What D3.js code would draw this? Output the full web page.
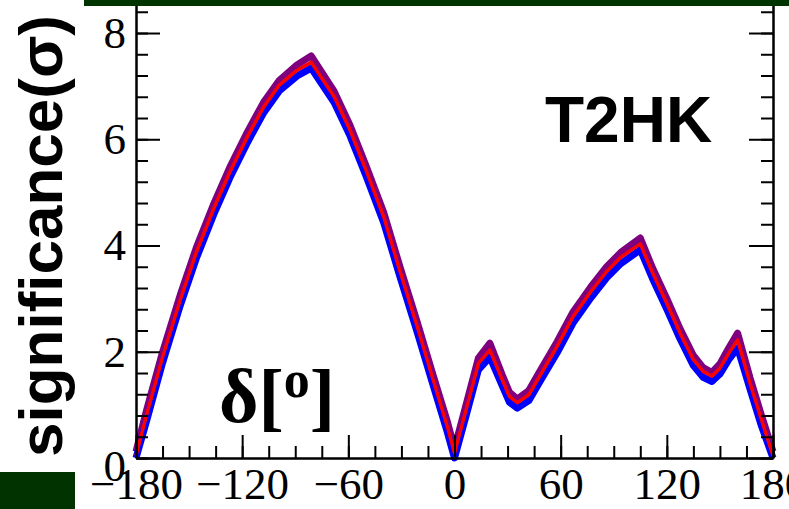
<!DOCTYPE html>
<html>
<head>
<meta charset="utf-8">
<script src="https://cdn.jsdelivr.net/npm/d3@7"></script>
<style>
  body { margin: 0; background: #fff; }
  svg { display: block; }
</style>
</head>
<body>
<svg></svg>
<script>
// delta CP values (degrees)
var delta = [-180, -174, -165, -155, -146, -136, -127, -117, -108, -99, -89, -81,
    -68, -59, -50, -40, -31, -21, -12, -4, 0, 7, 13.5, 20, 27, 31, 35.5, 42, 48,
    58, 67, 77, 86, 94, 105, 112, 120, 127.5, 135, 140.5, 145.5, 150, 155, 160,
    167, 173.5, 180]

var sigPurple = [0.12, 0.9, 1.99, 3.07, 3.95, 4.79, 5.47, 6.14, 6.69, 7.11, 7.4, 7.57,
    6.9, 6.26, 5.5, 4.62, 3.62, 2.55, 1.55, 0.68, 0.18, 1.06, 1.88, 2.16, 1.56, 1.24,
    1.11, 1.27, 1.62, 2.19, 2.75, 3.22, 3.6, 3.87, 4.14, 3.57, 3.0, 2.43, 1.93, 1.7,
    1.61, 1.77, 2.07, 2.35, 1.51, 0.8, 0.12]

var sigRed = [0.05, 0.82, 1.9, 2.98, 3.86, 4.7, 5.38, 6.05, 6.6, 7.02, 7.3, 7.45,
    6.8, 6.17, 5.42, 4.54, 3.54, 2.47, 1.47, 0.59, 0.1, 0.97, 1.78, 2.03, 1.47, 1.16,
    1.04, 1.19, 1.53, 2.1, 2.66, 3.13, 3.51, 3.78, 4.03, 3.48, 2.91, 2.35, 1.85, 1.63,
    1.54, 1.69, 1.97, 2.22, 1.41, 0.72, 0.05]

var sigBlue = [0, 0.7, 1.79, 2.87, 3.75, 4.59, 5.27, 5.94, 6.49, 6.91, 7.19, 7.34,
    6.69, 6.06, 5.31, 4.43, 3.43, 2.36, 1.36, 0.48, 0, 0.85, 1.66, 1.9, 1.36, 1.05,
    0.94, 1.08, 1.42, 1.98, 2.54, 3.01, 3.39, 3.66, 3.92, 3.37, 2.8, 2.24, 1.74, 1.52,
    1.44, 1.58, 1.85, 2.07, 1.3, 0.6, 0]

var xTicks = [-180, -120, -60, 0, 60, 120, 180]
var yTicks = [0, 2, 4, 6, 8]

var width = 789, height = 509

var svg = d3.select("svg")
    .attr("width", width)
    .attr("height", height)

svg.append("rect").attr("width", width).attr("height", height).attr("fill", "#fff")

var x = d3.scaleLinear().domain([-180, 180]).range([136, 773])
var y = d3.scaleLinear().domain([0, 8.55]).range([458, 3.8])

var serif = "'Liberation Serif', 'DejaVu Serif', serif"
var sans = "'Liberation Sans', Arial, sans-serif"

// curves: purple under, blue, red on top
var line = d3.line()
    .x((d) => x(d[0]))
    .y((d) => y(d[1]))

var series = [
    { vals: sigPurple, color: "#7f007f", w: 7 },
    { vals: sigBlue, color: "#0000ff", w: 7 },
    { vals: sigRed, color: "#ff0000", w: 3.5 }
]

series.forEach(function (s) {
    svg.append("path")
        .datum(delta.map((d, i) => [d, s.vals[i]]))
        .attr("d", line)
        .attr("fill", "none")
        .attr("stroke", s.color)
        .attr("stroke-width", s.w)
        .attr("stroke-linejoin", "round")
})

function styleAxis(g) {
    g.selectAll("path.domain").attr("stroke", "#000").attr("stroke-width", 2)
    g.selectAll(".tick line").attr("stroke", "#000").attr("stroke-width", 2)
    g.selectAll(".tick text")
        .attr("font-family", serif)
        .attr("font-size", 45)
        .attr("fill", "#000")
}

// bottom axis: minor every 15, major every 60
svg.append("g")
    .attr("transform", "translate(0,458)")
    .call(d3.axisBottom(x).tickValues(d3.range(-180, 181, 15)).tickSize(-12).tickSizeOuter(0).tickFormat(""))
    .call(styleAxis)

svg.append("g")
    .attr("transform", "translate(0,458)")
    .call(d3.axisBottom(x).tickValues(xTicks).tickSize(-23).tickSizeOuter(0).tickPadding(9).tickFormat(d3.format("d")))
    .call(styleAxis)

// left axis: minor every 0.4, major every 2
svg.append("g")
    .attr("transform", "translate(136,0)")
    .call(d3.axisLeft(y).tickValues(d3.range(0, 8.5, 0.4)).tickSize(-12).tickSizeOuter(0).tickFormat(""))
    .call(styleAxis)

var yAxisG = svg.append("g")
    .attr("transform", "translate(136,0)")
    .call(d3.axisLeft(y).tickValues(yTicks).tickSize(-24).tickSizeOuter(0).tickPadding(10).tickFormat(d3.format("d")))
    .call(styleAxis)

yAxisG.selectAll(".tick text").filter((d) => d === 0).attr("dy", "0.5em")

// right axis, ticks inward
svg.append("g")
    .attr("transform", "translate(773,0)")
    .call(d3.axisRight(y).tickValues(d3.range(0, 8.5, 0.4)).tickSize(-12).tickSizeOuter(0).tickFormat(""))
    .call(styleAxis)

svg.append("g")
    .attr("transform", "translate(773,0)")
    .call(d3.axisRight(y).tickValues(yTicks).tickSize(-24).tickSizeOuter(0).tickFormat(""))
    .call(styleAxis)

// slide decorations
svg.append("rect").attr("x", 84).attr("y", 0).attr("width", width - 84).attr("height", 6).attr("fill", "#003300")
svg.append("rect").attr("x", 0).attr("y", 472).attr("width", 75).attr("height", height - 472).attr("fill", "#003300")

// labels
svg.append("text")
    .attr("transform", "translate(62,236) rotate(-90)")
    .attr("text-anchor", "middle")
    .attr("font-family", sans)
    .attr("font-weight", "bold")
    .attr("font-size", 62)
    .attr("fill", "#000")
    .text("significance(σ)")

svg.append("text")
    .attr("x", 545)
    .attr("y", 142)
    .attr("font-family", sans)
    .attr("font-weight", "bold")
    .attr("font-size", 64)
    .attr("fill", "#000")
    .text("T2HK")

var dl = svg.append("text")
    .attr("x", 219)
    .attr("y", 422)
    .attr("font-family", serif)
    .attr("font-weight", "bold")
    .attr("font-size", 76)
    .attr("fill", "#000")
dl.append("tspan").text("δ[")
dl.append("tspan").attr("font-size", 52).attr("dy", -25).text("o")
dl.append("tspan").attr("dy", 25).text("]")
</script>
</body>
</html>
